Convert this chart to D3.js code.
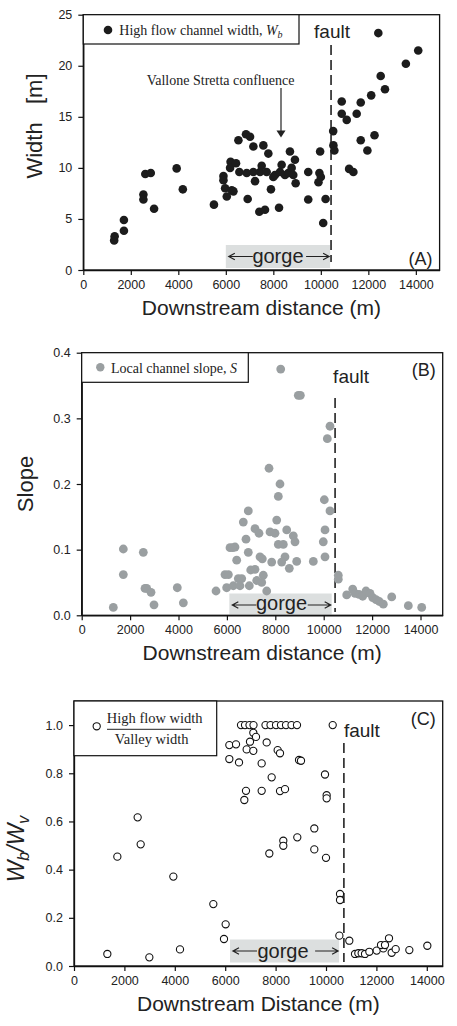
<!DOCTYPE html>
<html>
<head>
<meta charset="utf-8">
<script src="https://cdn.jsdelivr.net/npm/d3@7"></script>
<style>
  body { margin: 0; background: #fff; }
  svg { display: block; }
</style>
</head>
<body>
<div id="chart"></div>
<script>
// panel A - high flow channel width (m)
const widthDist = [1300, 1320, 1710, 1710, 2530, 2530, 2610, 2840, 2980, 3930, 4190, 5500,
    5900, 5900, 5970, 6040, 6200, 6180, 6250, 6320, 6430, 6530, 6570, 6850, 7020, 6880, 6920,
    7160, 7160, 7230, 7440, 7510, 7410, 7580, 7650, 7720, 7790, 7900, 8000, 8070, 8240, 8280,
    8350, 8490, 8630, 8700, 8770, 8840, 8910, 8940, 9470, 9470, 9970, 9940, 10000, 9900, 10200,
    10100, 10520, 10530, 10570, 10880, 10880, 11090, 11190, 11370, 11510, 11680, 11680, 11960,
    12120, 12260, 12420, 12520, 12700, 13580, 14100];
const widthVals = [2.9, 3.3, 4.9, 3.85, 7.4, 6.9, 9.4, 9.5, 6.0, 9.95, 7.9, 6.4,
    9.2, 8.8, 8.0, 7.2, 10.6, 10.0, 7.8, 7.7, 10.45, 12.7, 9.6, 13.3, 13.05, 9.5, 6.95,
    12.1, 9.6, 8.7, 9.6, 10.2, 5.7, 12.2, 5.9, 9.6, 11.4, 7.9, 9.1, 9.3, 6.1, 9.6,
    10.3, 9.3, 9.5, 11.6, 10.0, 9.3, 10.8, 8.5, 9.6, 6.9, 11.6, 9.5, 9.1, 8.6, 6.95,
    4.6, 13.6, 12.2, 11.7, 16.5, 15.3, 14.7, 9.9, 9.6, 15.3, 16.4, 12.7, 11.7,
    17.1, 13.2, 23.2, 19.0, 17.7, 20.2, 21.5];

// panel B - local channel slope
const slopeDist = [1306, 1720, 1720, 2546, 2616, 2686, 2864, 2988, 3950, 4200, 5550, 5921, 6060,
    5990, 6128, 8223, 8950, 9035, 10260, 10149, 7740, 8194, 8124, 6884, 6678, 10025, 10260,
    7161, 7326, 8058, 7781, 7988, 8471, 8744, 8814, 8124, 8331, 10054, 9983, 6789, 6335, 6240,
    6884, 6405, 7368, 7463, 8401, 7851, 8264, 8884, 9570, 10054, 8579, 6983, 7161, 7504,
    6471, 6612, 7231, 7438, 6264, 6541, 6926, 7645, 10603, 10603, 10950, 11198, 11293,
    11458, 11611, 11748, 11913, 12025, 12161, 12298, 12463, 12810, 13496, 14050];
const slopeVals = [0.012, 0.101, 0.062, 0.096, 0.041, 0.041, 0.035, 0.016, 0.042, 0.019, 0.037, 0.062, 0.062,
    0.042, 0.103, 0.375, 0.335, 0.335, 0.288, 0.269, 0.224, 0.200, 0.181, 0.159, 0.142, 0.176, 0.159,
    0.132, 0.125, 0.145, 0.127, 0.125, 0.130, 0.121, 0.112, 0.108, 0.108, 0.130, 0.112, 0.116, 0.104, 0.103,
    0.096, 0.084, 0.089, 0.086, 0.089, 0.081, 0.081, 0.082, 0.082, 0.089, 0.0715, 0.069, 0.070, 0.061,
    0.056, 0.056, 0.053, 0.050, 0.045, 0.045, 0.045, 0.037, 0.061, 0.055, 0.031, 0.040, 0.0335,
    0.032, 0.029, 0.037, 0.0335, 0.027, 0.024, 0.021, 0.017, 0.028, 0.0146, 0.012];

// panel C - high flow width / valley width
const ratioDist = [1323, 1720, 2526, 2646, 2990, 3942, 4206, 5529, 5952, 6018, 6164, 6164,
    6627, 6786, 6964, 7123, 7599, 7798, 8016, 8214, 8413, 8631, 8849, 10266,
    7116, 7222, 6984, 6429, 6852, 7116, 7646, 8082, 8175, 6548, 7447, 8929, 9008, 7844, 9960,
    6825, 6759, 7447, 8175, 8373, 10026, 10026, 9536, 8861, 8306, 8306, 7751, 9536, 10000,
    10556, 10556, 10530, 10925, 11151, 11283, 11415, 11548, 11720, 12012, 12275, 12183,
    12341, 12500, 12606, 12765, 13307, 14021];
const ratioVals = [0.050, 0.454, 0.617, 0.505, 0.036, 0.371, 0.069, 0.257, 0.112, 0.173, 0.917, 0.859,
    1.0, 1.0, 1.0, 1.0, 1.0, 1.0, 1.0, 1.0, 1.0, 1.0, 1.0, 1.0,
    0.968, 0.951, 0.931, 0.92, 0.899, 0.893, 0.928, 0.896, 0.883, 0.845, 0.841, 0.855, 0.852, 0.783, 0.795,
    0.727, 0.689, 0.727, 0.726, 0.734, 0.709, 0.696, 0.571, 0.534, 0.52, 0.499, 0.467, 0.484, 0.449,
    0.299, 0.274, 0.126, 0.105, 0.050, 0.053, 0.053, 0.050, 0.059, 0.064, 0.073, 0.087,
    0.087, 0.115, 0.055, 0.070, 0.066, 0.084];

// tick labels
const xTicks = [0, 2000, 4000, 6000, 8000, 10000, 12000, 14000];
const widthTicks = [0, 5, 10, 15, 20, 25];
const slopeTicks = [0, 0.1, 0.2, 0.3, 0.4];
const ratioTicks = [0, 0.2, 0.4, 0.6, 0.8, 1.0];

// fault position and gorge reach (m downstream)
const faultDist = [10430, 10470, 10710];
const gorgeReach = [[6000, 10390], [6100, 10330], [6190, 10520]];

const SANS = "Liberation Sans, Arial, sans-serif";
const SERIF = "Liberation Serif, Times New Roman, serif";

const svg = d3.select("#chart")
    .append("svg")
    .attr("width", 457)
    .attr("height", 1026);

function arrow(g, x1, x2, yy) {
    // thin shaft with a v-shaped head at x2
    const dir = x2 > x1 ? 1 : -1;
    g.append("path")
        .attr("d", `M${x1},${yy}H${x2}M${x2 - dir * 6},${yy - 3.2}L${x2},${yy}L${x2 - dir * 6},${yy + 3.2}`)
        .attr("fill", "none")
        .attr("stroke", "#222")
        .attr("stroke-width", 1.2);
}

function drawPanel(p) {
    const x = d3.scaleLinear().domain([0, p.xMax]).range([p.left, p.right]);
    const y = d3.scaleLinear().domain([0, p.yMax]).range([p.bottom, p.top]);
    const g = svg.append("g");

    // gorge reach box
    const gx0 = x(p.gorge[0]), gx1 = x(p.gorge[1]);
    g.append("rect")
        .attr("x", gx0).attr("y", p.gorgeTop)
        .attr("width", gx1 - gx0).attr("height", p.gorgeBottom - p.gorgeTop)
        .attr("fill", "#dcdfdf");

    // fault line
    g.append("line")
        .attr("x1", x(p.fault)).attr("x2", x(p.fault))
        .attr("y1", p.faultTop).attr("y2", p.faultBottom)
        .attr("stroke", "#222")
        .attr("stroke-width", 1.6)
        .attr("stroke-dasharray", "10,5");

    // points
    g.selectAll("circle.pt")
        .data(p.dist.map((d, i) => [d, p.vals[i]]))
        .enter()
        .append("circle")
        .attr("class", "pt")
        .attr("cx", d => x(d[0]))
        .attr("cy", d => y(d[1]))
        .attr("r", p.r)
        .attr("fill", p.fill)
        .attr("stroke", p.stroke)
        .attr("stroke-width", 1.1);

    // gorge label + arrows
    g.append("text")
        .attr("x", (gx0 + gx1) / 2 + p.gorgeShift)
        .attr("y", p.gorgeBottom - 5)
        .attr("text-anchor", "middle")
        .style("font-family", SANS)
        .style("font-size", "20px")
        .attr("fill", "#222")
        .text("gorge");
    const ay = p.gorgeTop + 11.5;
    arrow(g, gx0 + 27, gx0 + 3, ay);
    arrow(g, gx1 - 24, gx1 - 1, ay);

    // fault label
    g.append("text")
        .attr("x", x(p.fault) + p.faultDx)
        .attr("y", p.faultY)
        .attr("text-anchor", p.faultAnchor)
        .style("font-family", SANS)
        .style("font-size", "19px")
        .attr("fill", "#222")
        .text("fault");

    // panel letter
    g.append("text")
        .attr("x", p.right - 7)
        .attr("y", p.letterY)
        .attr("text-anchor", "end")
        .style("font-family", SANS)
        .style("font-size", "18px")
        .attr("fill", "#222")
        .text(p.letter);

    // frame
    g.append("rect")
        .attr("x", p.left).attr("y", p.top)
        .attr("width", p.right - p.left).attr("height", p.bottom - p.top)
        .attr("fill", "none")
        .attr("stroke", "#111")
        .attr("stroke-width", 1.3);

    // axes
    g.append("g")
        .attr("transform", `translate(0,${p.bottom})`)
        .call(d3.axisBottom(x).tickValues(xTicks).tickSize(5).tickSizeOuter(0).tickPadding(5).tickFormat(d3.format("d")))
        .call(styleAxis);
    g.append("g")
        .attr("transform", `translate(${p.left},0)`)
        .call(d3.axisLeft(y).tickValues(p.yTicks).tickSize(5).tickSizeOuter(0).tickPadding(6).tickFormat(p.yFormat))
        .call(styleAxis);

    // x title
    g.append("text")
        .attr("x", (p.left + p.right) / 2)
        .attr("y", p.bottom + 45)
        .attr("text-anchor", "middle")
        .style("font-family", SANS)
        .style("font-size", "21px")
        .attr("fill", "#222")
        .text(p.xTitle);

    return { g, x, y };
}

function styleAxis(sel) {
    sel.select(".domain").attr("stroke", "#111").attr("stroke-width", 1.3);
    sel.selectAll(".tick line").attr("stroke", "#111").attr("stroke-width", 1.2);
    sel.selectAll("text")
        .style("font-family", SANS)
        .style("font-size", "12.5px")
        .attr("fill", "#222");
}

// panel A
const a = drawPanel({
    left: 83.3, right: 439.6, top: 14.7, bottom: 270, xMax: 15000, yMax: 25,
    dist: widthDist, vals: widthVals, r: 4.3, fill: "#1c1c1c", stroke: "none",
    yTicks: widthTicks, yFormat: d3.format("d"),
    fault: faultDist[0], faultTop: 45, faultBottom: 262, faultDx: 1, faultY: 38, faultAnchor: "middle",
    gorge: gorgeReach[0], gorgeTop: 245, gorgeBottom: 268, gorgeShift: 0,
    letter: "(A)", letterY: 265, xTitle: "Downstream distance (m)"
});
a.g.append("text")
    .attr("transform", "translate(41.5,126) rotate(-90)")
    .attr("text-anchor", "middle")
    .style("font-family", SANS).style("font-size", "22px").style("white-space", "pre")
    .attr("fill", "#222")
    .text("Width   [m]");
// legend A
a.g.append("rect").attr("x", 83.3).attr("y", 14.7).attr("width", 215.7).attr("height", 29.3)
    .attr("fill", "#fff").attr("stroke", "#111").attr("stroke-width", 1.2);
a.g.append("circle").attr("cx", 108).attr("cy", 30).attr("r", 4.3).attr("fill", "#1c1c1c");
const legA = a.g.append("text").attr("x", 119.3).attr("y", 34.5)
    .style("font-family", SERIF).style("font-size", "14px").attr("fill", "#222");
legA.append("tspan").text("High flow channel width, ");
legA.append("tspan").style("font-style", "italic").text("W");
legA.append("tspan").style("font-style", "italic").style("font-size", "10px").attr("dy", 3).text("b");
// confluence note
a.g.append("text").attr("x", 146.7).attr("y", 85)
    .style("font-family", SERIF).style("font-size", "14px").attr("fill", "#222")
    .text("Vallone Stretta confluence");
a.g.append("line").attr("x1", 281).attr("x2", 281).attr("y1", 88).attr("y2", 132)
    .attr("stroke", "#222").attr("stroke-width", 1.2);
a.g.append("path").attr("d", "M276.5,130.5L285.5,130.5L281,137.5Z").attr("fill", "#222");

// panel B
const b = drawPanel({
    left: 81.7, right: 442.7, top: 352.7, bottom: 615.3, xMax: 14917, yMax: 0.4,
    dist: slopeDist, vals: slopeVals, r: 4.4, fill: "#9a9fa1", stroke: "none",
    yTicks: slopeTicks, yFormat: d3.format(".1f"),
    fault: faultDist[1], faultTop: 398, faultBottom: 612, faultDx: 16, faultY: 382.5, faultAnchor: "middle",
    gorge: gorgeReach[1], gorgeTop: 593.5, gorgeBottom: 614.5, gorgeShift: 1,
    letter: "(B)", letterY: 376, xTitle: "Downstream distance (m)"
});
b.g.append("text")
    .attr("transform", "translate(33,484) rotate(-90)")
    .attr("text-anchor", "middle")
    .style("font-family", SANS).style("font-size", "22px")
    .attr("fill", "#222")
    .text("Slope");
b.g.append("rect").attr("x", 81.7).attr("y", 352.7).attr("width", 166.6).attr("height", 29.6)
    .attr("fill", "#fff").attr("stroke", "#111").attr("stroke-width", 1.2);
b.g.append("circle").attr("cx", 100.3).attr("cy", 367.3).attr("r", 4.2).attr("fill", "#9a9fa1");
const legB = b.g.append("text").attr("x", 111).attr("y", 372.5)
    .style("font-family", SERIF).style("font-size", "14px").attr("fill", "#222");
legB.append("tspan").text("Local channel slope, ");
legB.append("tspan").style("font-style", "italic").text("S");

// panel C
const c = drawPanel({
    left: 74, right: 442.7, top: 701, bottom: 966, xMax: 14631, yMax: 1.1,
    dist: ratioDist, vals: ratioVals, r: 3.6, fill: "#fff", stroke: "#111",
    yTicks: ratioTicks, yFormat: d3.format(".1f"),
    fault: faultDist[2], faultTop: 743, faultBottom: 962, faultDx: 0, faultY: 737, faultAnchor: "start",
    gorge: gorgeReach[2], gorgeTop: 939.5, gorgeBottom: 962.5, gorgeShift: -1.5,
    letter: "(C)", letterY: 725, xTitle: "Downstream Distance (m)"
});
const yLabC = c.g.append("text")
    .attr("transform", "translate(23.5,849) rotate(-90)")
    .attr("text-anchor", "middle")
    .style("font-family", SANS).style("font-size", "23px").style("font-style", "italic")
    .attr("fill", "#222");
yLabC.append("tspan").text("W");
yLabC.append("tspan").style("font-size", "16px").attr("dy", 5).text("b");
yLabC.append("tspan").attr("dy", -5).text("/W");
yLabC.append("tspan").style("font-size", "16px").attr("dy", 5).text("v");
c.g.append("rect").attr("x", 74).attr("y", 701).attr("width", 142.7).attr("height", 54.7)
    .attr("fill", "#fff").attr("stroke", "#111").attr("stroke-width", 1.2);
c.g.append("circle").attr("cx", 96.7).attr("cy", 726.3).attr("r", 3.6)
    .attr("fill", "#fff").attr("stroke", "#111").attr("stroke-width", 1.1);
c.g.append("text").attr("x", 154.7).attr("y", 723.3).attr("text-anchor", "middle")
    .style("font-family", SERIF).style("font-size", "14.5px").attr("fill", "#222")
    .text("High flow width");
c.g.append("line").attr("x1", 107).attr("x2", 191).attr("y1", 729.3).attr("y2", 729.3)
    .attr("stroke", "#222").attr("stroke-width", 1);
c.g.append("text").attr("x", 151.7).attr("y", 744.3).attr("text-anchor", "middle")
    .style("font-family", SERIF).style("font-size", "14.5px").attr("fill", "#222")
    .text("Valley width");
</script>
</body>
</html>
